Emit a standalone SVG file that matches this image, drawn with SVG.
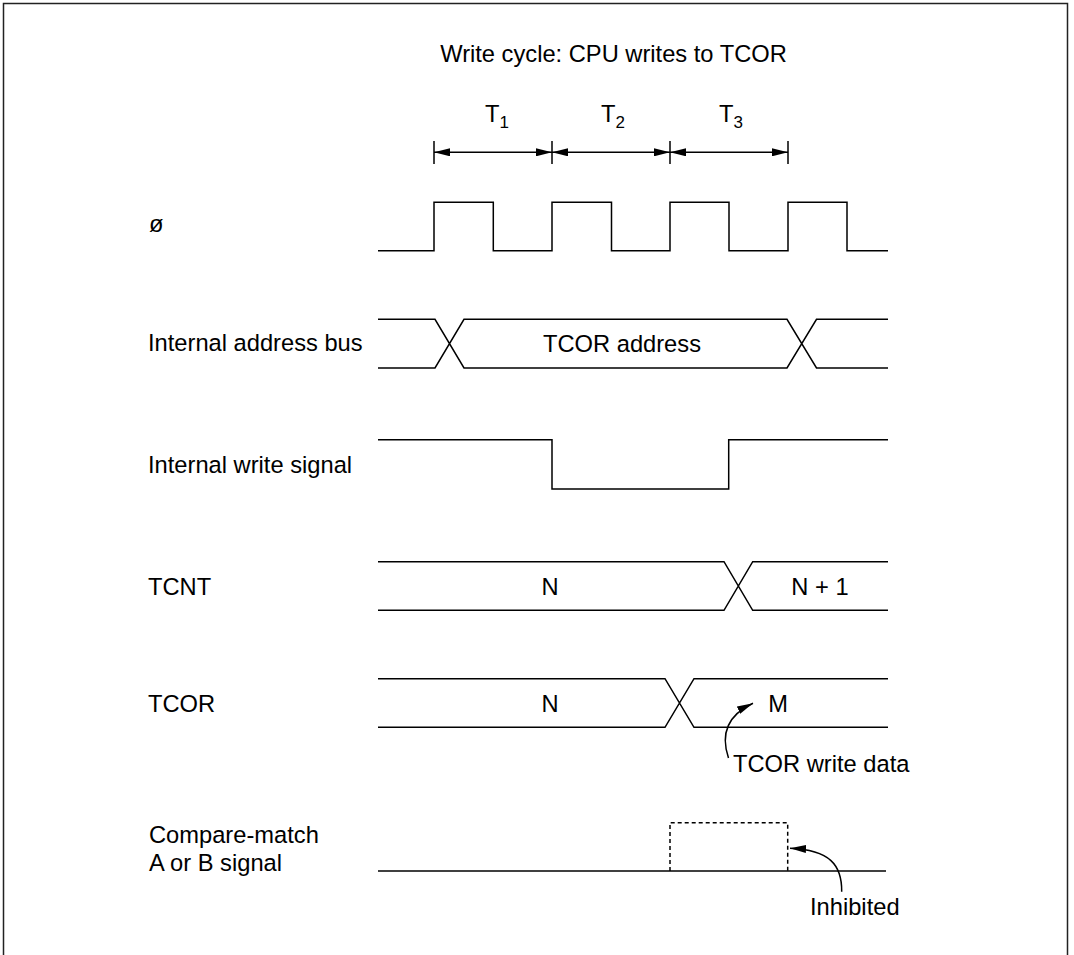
<svg xmlns="http://www.w3.org/2000/svg" width="1074" height="955" viewBox="0 0 1074 955">
<style>
text{font-family:"Liberation Sans",Arial,sans-serif;font-size:23.7px;fill:#000}
.sub{font-size:17px}
.w{fill:none;stroke:#000;stroke-width:1.5}
.d{fill:none;stroke:#000;stroke-width:1.5;stroke-dasharray:4,3}
.frame{fill:none;stroke:#222;stroke-width:1.5}
</style>
<defs>
<marker id="ah" markerWidth="16" markerHeight="8" refX="16" refY="4" orient="auto-start-reverse" markerUnits="userSpaceOnUse">
<path d="M0,0 L16,4 L0,8 Z" fill="#000"/>
</marker>
</defs>
<rect width="1074" height="955" fill="#fff"/>
<path class="frame" d="M3.5,955 V3.5 H1067.5 V955"/>
<g id="title"><text x="613.5" y="62" text-anchor="middle">Write cycle: CPU writes to TCOR</text></g>
<g id="timing">
<text x="485" y="122">T<tspan class="sub" dy="6">1</tspan></text>
<text x="601" y="122">T<tspan class="sub" dy="6">2</tspan></text>
<text x="719" y="122">T<tspan class="sub" dy="6">3</tspan></text>
<path class="w" d="M434,141 V164 M552,141 V164 M670,141 V164 M788,141 V164"/>
<path class="w" d="M434,152.3 H552" marker-start="url(#ah)" marker-end="url(#ah)"/>
<path class="w" d="M552,152.3 H670" marker-start="url(#ah)" marker-end="url(#ah)"/>
<path class="w" d="M670,152.3 H788" marker-start="url(#ah)" marker-end="url(#ah)"/>
</g>
<g id="clock">
<text x="149" y="232">ø</text>
<path class="w" d="M378,250.7 H434 V202.3 H493.3 V250.7 H552 V202.3 H611.5 V250.7 H670 V202.3 H729 V250.7 H788 V202.3 H847 V250.7 H888"/>
</g>
<g id="address-bus">
<text x="148" y="351">Internal address bus</text>
<path class="w" d="M378,319.3 H435 L464,368 H787 L816.5,319.3 H888 M378,368 H435 L464,319.3 H787 L816.5,368 H888"/>
<text x="622" y="352" text-anchor="middle">TCOR address</text>
</g>
<g id="write-signal">
<text x="148" y="473">Internal write signal</text>
<path class="w" d="M378,439.7 H552 V489 H728.7 V439.7 H888"/>
</g>
<g id="tcnt">
<text x="148" y="595">TCNT</text>
<path class="w" d="M378,561.7 H724 L752.7,610.3 H888 M378,610.3 H724 L752.7,561.7 H888"/>
<text x="550" y="595" text-anchor="middle">N</text>
<text x="820" y="595" text-anchor="middle">N + 1</text>
</g>
<g id="tcor">
<text x="148" y="712">TCOR</text>
<path class="w" d="M378,678.7 H665 L694,727.3 H888 M378,727.3 H665 L694,678.7 H888"/>
<text x="550" y="712" text-anchor="middle">N</text>
<text x="778" y="712" text-anchor="middle">M</text>
<text x="733" y="772">TCOR write data</text>
</g>
<g id="compare-match">
<text x="149" y="843">Compare-match</text>
<text x="149" y="871">A or B signal</text>
<path class="w" d="M378,871 H886"/>
<path class="d" d="M670,871 V822.7 H787.7 V871"/>
<text x="810" y="915">Inhibited</text>
</g>
<g id="connectors">
<path class="w" d="M728.5,758 C721,736 726,716 753,703.3" marker-end="url(#ah)"/>
<path class="w" d="M841.7,891.7 C842,865 830,850 790,848.3" marker-end="url(#ah)"/>
</g>
</svg>
